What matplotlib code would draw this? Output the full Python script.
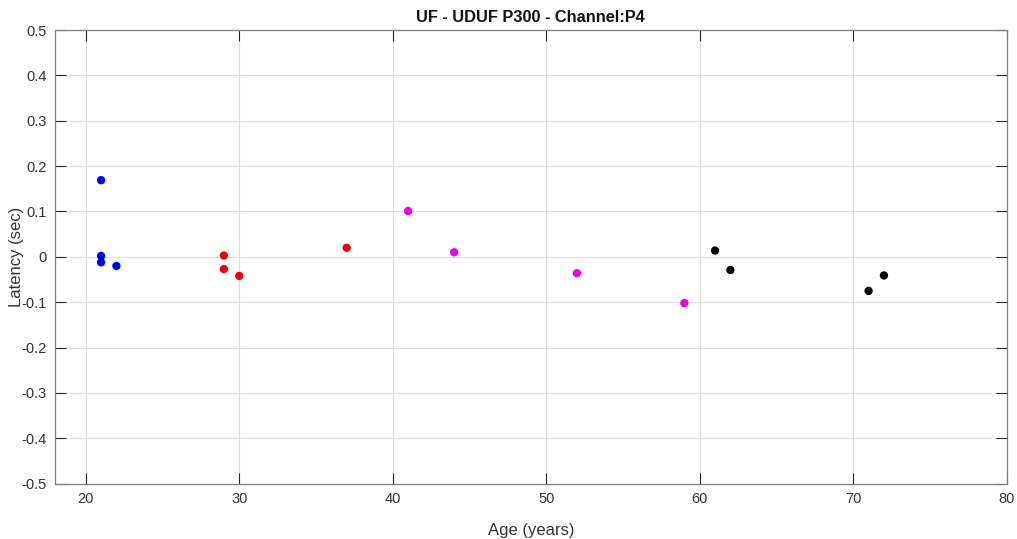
import matplotlib
matplotlib.use('Agg')
import matplotlib.pyplot as plt

plt.rcParams['font.family'] = ['Liberation Sans', 'DejaVu Sans']

# 各年龄组数据 (age, latency)
age_blue = [21, 21, 21, 22]
lat_blue = [0.169, 0.002, -0.012, -0.020]
age_red = [29, 29, 30, 37]
lat_red = [0.003, -0.027, -0.042, 0.020]
age_magenta = [41, 44, 52, 59]
lat_magenta = [0.101, 0.010, -0.036, -0.102]
age_black = [61, 62, 71, 72]
lat_black = [0.014, -0.029, -0.075, -0.041]

x_ticks = [20, 30, 40, 50, 60, 70, 80]
y_ticks = [-0.5, -0.4, -0.3, -0.2, -0.1, 0, 0.1, 0.2, 0.3, 0.4, 0.5]
y_tick_labels = ['-0.5', '-0.4', '-0.3', '-0.2', '-0.1', '0', '0.1', '0.2', '0.3', '0.4', '0.5']

fig = plt.figure(figsize=(10.17, 5.39), dpi=100)
ax = fig.add_axes([0.0541, 0.1026, 0.9358, 0.8417])

groups = [
    (age_blue, lat_blue, '#0000ee'),
    (age_red, lat_red, '#ee0000'),
    (age_magenta, lat_magenta, '#ee00ee'),
    (age_black, lat_black, '#000000'),
]
for ages, lats, c in groups:
    ax.scatter(ages, lats, s=36, color=c, edgecolors='none', zorder=3)

ax.set_xlim(18, 80)
ax.set_ylim(-0.5, 0.5)
ax.set_xticks(x_ticks)
ax.set_yticks(y_ticks)
ax.set_yticklabels(y_tick_labels)

ax.grid(True, color='#dcdcdc', linewidth=0.8)
ax.set_axisbelow(True)
for sp in ax.spines.values():
    sp.set_color('#7f7f7f')
    sp.set_linewidth(0.9)
ax.tick_params(direction='in', length=8, width=0.8, color='#262626',
               labelcolor='#333333', labelsize=10.5, top=True, right=True, pad=6)

ax.set_title('UF - UDUF P300 - Channel:P4', fontsize=11.8, fontweight='bold',
             color='#111111', pad=6)
ax.set_xlabel('Age (years)', fontsize=12, color='#333333', labelpad=12)
ax.set_ylabel('Latency (sec)', fontsize=12, color='#333333', va='center')
ax.yaxis.set_label_coords(-0.040, 0.5)

fig.savefig('out.png', dpi=100)
